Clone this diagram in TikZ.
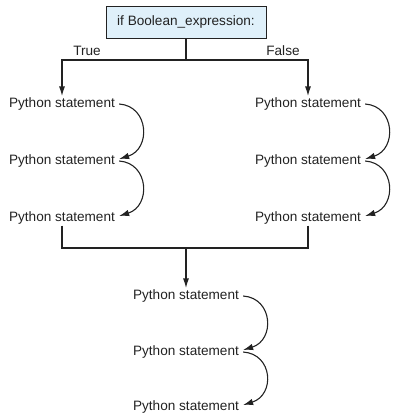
\documentclass[tikz,border=0pt]{standalone}
\usepackage{fontspec}
\setmainfont{Liberation Sans}
\usetikzlibrary{arrows.meta}
\definecolor{boxfill}{HTML}{DFF0FA}
\definecolor{ink}{HTML}{222222}
\begin{document}
\begin{tikzpicture}[x=1pt,y=1pt,
  stmt/.style={inner sep=1pt, font=\fontsize{13.6}{15}\selectfont, text=ink},
  lbl/.style={inner sep=1pt, font=\fontsize{13.6}{15}\selectfont, text=ink},
  cond/.style={draw=ink, line width=0.8pt, fill=boxfill, minimum width=160pt, minimum height=32pt, inner sep=2pt, font=\fontsize{13.6}{15}\selectfont, text=ink},
  flow/.style={draw=ink, line width=1.5pt},
  flowarr/.style={flow, -{Latex[length=10pt,width=6pt]}},
  seq/.style={draw=ink, line width=1.1pt, -{Latex[length=10pt,width=6.5pt]}}
]
\useasboundingbox (0,0) rectangle (394,413);
\node[cond] (box) at (186,391) {if Boolean\_expression:};
\node[lbl] (t) at (87,362) {True};
\node[lbl] (f) at (283,362) {False};
\node[stmt] (l1) at (62,309) {Python statement};
\node[stmt] (l2) at (62,252) {Python statement};
\node[stmt] (l3) at (62,195) {Python statement};
\node[stmt] (r1) at (308,309) {Python statement};
\node[stmt] (r2) at (308,252) {Python statement};
\node[stmt] (r3) at (308,195) {Python statement};
\node[stmt] (b1) at (186,117) {Python statement};
\node[stmt] (b2) at (186,61) {Python statement};
\node[stmt] (b3) at (186,6) {Python statement};
\coordinate (jc) at (186,353);
\coordinate (jb) at (186,165);
\draw[flow] (box.south) -- (jc);
\draw[flowarr] (jc) -| (l1.north);
\draw[flowarr] (jc) -| (r1.north);
\draw[flow] (l3.south) |- (jb);
\draw[flow] (r3.south) |- (jb);
\draw[flowarr] (jb) -- (b1.north);
\foreach \a/\b in {l1/l2,l2/l3,r1/r2,r2/r3,b1/b2,b2/b3}{
  \draw[seq] ([xshift=3pt,yshift=0pt]\a.east) .. controls +(30,-2) and +(32,10) .. ([xshift=3pt,yshift=2pt]\b.east);
}
\end{tikzpicture}
\end{document}
